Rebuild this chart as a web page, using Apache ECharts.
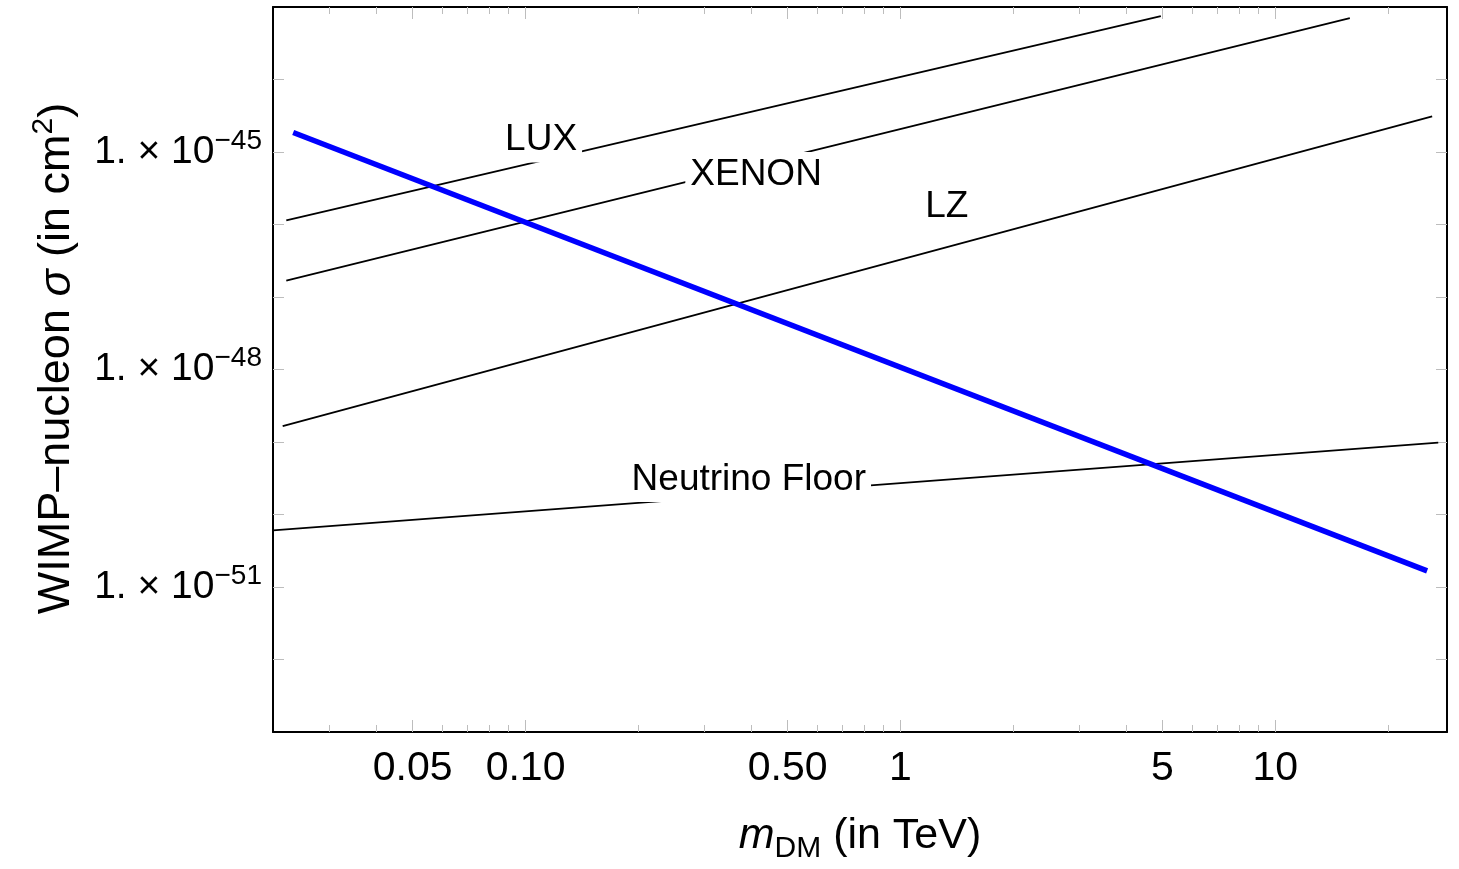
<!DOCTYPE html>
<html>
<head>
<meta charset="utf-8">
<title>WIMP-nucleon cross section</title>
<script src="https://cdn.jsdelivr.net/npm/echarts@6.0.0/dist/echarts.min.js"></script>
<style>
  html, body { margin: 0; padding: 0; background: #fff; }
  #chart { width: 1459px; height: 869px; }
</style>
</head>
<body>
<div id="chart"></div>
<script>
// dark matter mass in TeV, cross section in cm^2
const massLUX = [0.023, 4.95];
const sigmaLUX = [1.14e-46, 7.5e-44];
const massXENON = [0.023, 15.8];
const sigmaXENON = [1.68e-47, 7.0e-44];
const massLZ = [0.0225, 26.2];
const sigmaLZ = [1.66e-49, 3.1e-45];
const massNu = [0.0212, 27.2];
const sigmaNu = [6.05e-51, 9.8e-50];
const massModel = [0.024, 25.4];
const sigmaModel = [1.86e-45, 1.67e-51];

// curve labels
const labelNames = ['LUX', 'XENON', 'LZ', 'Neutrino Floor'];
const labelMass = [0.11, 0.412, 1.33, 0.394];
const labelSigma = [1.46e-45, 4.9e-46, 1.76e-46, 3.05e-50];

// ticks
const xMajorTicks = [0.05, 0.1, 0.5, 1, 5, 10];
const xTickLabels = ['0.05', '0.10', '0.50', '1', '5', '10'];
const xMinorTicks = [0.03, 0.04, 0.06, 0.07, 0.08, 0.09, 0.2, 0.3, 0.4, 0.6, 0.7, 0.8, 0.9, 2, 3, 4, 6, 7, 8, 9, 20];
const yTickExps = [-52, -51, -50, -49, -48, -47, -46, -45, -44];
const yLabelExps = [-45, -48, -51];
const xRange = [0.0212, 28.7];
const yRange = [-53, -43];

const FONT = '"Liberation Sans", Arial, sans-serif';
const TICK_COLOR = '#bdbdbd';

// log-log plot: the axes work on log10 of the values
function toLog(mass, sigma) {
  return mass.map((m, i) => [Math.log10(m), Math.log10(sigma[i])]);
}
const xMajorLog = xMajorTicks.map(Math.log10);
const xMinorLog = xMinorTicks.map(Math.log10);
const xMin = Math.log10(xRange[0]);
const xMax = Math.log10(xRange[1]);

function xLabel(v) {
  for (let i = 0; i < xMajorLog.length; i++) {
    if (Math.abs(xMajorLog[i] - v) < 1e-6) return xTickLabels[i];
  }
  return '';
}
function yLabel(v) {
  return '{m|1. \u00d7 10}{s|\u2212' + Math.abs(Math.round(v)) + '}';
}

function xAxisDef(position, ticks, len, withLine) {
  return {
    type: 'value', position: position, min: xMin, max: xMax,
    axisLine: { show: withLine, onZero: false, lineStyle: { color: '#000', width: 2 } },
    axisTick: { show: true, inside: true, length: len, customValues: ticks, lineStyle: { color: TICK_COLOR, width: 1 } },
    axisLabel: { show: false },
    splitLine: { show: false }
  };
}
function yAxisDef(position) {
  return {
    type: 'value', position: position, min: yRange[0], max: yRange[1],
    axisLine: { show: true, onZero: false, lineStyle: { color: '#000', width: 2 } },
    axisTick: { show: true, inside: true, length: 11, customValues: yTickExps, lineStyle: { color: TICK_COLOR, width: 1 } },
    axisLabel: { show: false },
    splitLine: { show: false }
  };
}

const xBottom = xAxisDef('bottom', xMajorLog, 12, true);
xBottom.axisLabel = {
  show: true, customValues: xMajorLog, formatter: xLabel,
  fontSize: 41, fontFamily: FONT, color: '#000', margin: 16
};
xBottom.name = '{i|m}{d|DM} (in TeV)';
xBottom.nameLocation = 'middle';
xBottom.nameGap = 76;
xBottom.nameTextStyle = {
  fontSize: 43, fontFamily: FONT, color: '#000',
  rich: {
    i: { fontSize: 43, fontFamily: FONT, fontStyle: 'italic', color: '#000' },
    d: { fontSize: 30, fontFamily: FONT, color: '#000', padding: [26, 0, 0, 0] }
  }
};

const yLeft = yAxisDef('left');
yLeft.axisLabel = {
  show: true, customValues: yLabelExps, formatter: yLabel, margin: 11,
  fontSize: 39, fontFamily: FONT, color: '#000',
  rich: {
    m: { fontSize: 39, fontFamily: FONT, color: '#000' },
    s: { fontSize: 28, fontFamily: FONT, color: '#000', padding: [0, 0, 22, 0] }
  }
};
yLeft.name = 'WIMP\u2013nucleon {i|\u03c3} (in cm{s|2})';
yLeft.nameLocation = 'middle';
yLeft.nameRotate = 90;
yLeft.nameGap = 188;
yLeft.nameTextStyle = {
  fontSize: 45, fontFamily: FONT, color: '#000', padding: [0, 0, 0, 22],
  rich: {
    i: { fontSize: 45, fontFamily: FONT, fontStyle: 'italic', color: '#000' },
    s: { fontSize: 30, fontFamily: FONT, color: '#000', padding: [0, 0, 26, 0] }
  }
};

function limitLine(name, data) {
  return {
    name: name, type: 'line', data: data, showSymbol: false, silent: true,
    lineStyle: { color: '#000', width: 1.8 }, z: 2
  };
}

const chart = echarts.init(document.getElementById('chart'), null, { renderer: 'canvas' });

const option = {
  animation: false,
  backgroundColor: '#fff',
  grid: { left: 273, right: 12, top: 7, bottom: 136, containLabel: false },
  xAxis: [
    xBottom,
    xAxisDef('bottom', xMinorLog, 7, false),
    xAxisDef('top', xMajorLog, 12, true),
    xAxisDef('top', xMinorLog, 7, false)
  ],
  yAxis: [yLeft, yAxisDef('right')],
  series: [
    limitLine('LUX', toLog(massLUX, sigmaLUX)),
    limitLine('XENON', toLog(massXENON, sigmaXENON)),
    limitLine('LZ', toLog(massLZ, sigmaLZ)),
    limitLine('Neutrino Floor', toLog(massNu, sigmaNu)),
    {
      name: 'model', type: 'line', data: toLog(massModel, sigmaModel),
      showSymbol: false, silent: true,
      lineStyle: { color: '#0000ff', width: 5.5 }, z: 3
    },
    {
      name: 'labels', type: 'scatter', symbolSize: 0, silent: true, z: 10,
      itemStyle: { opacity: 1 },
      data: labelNames.map((n, i) => ({
        name: n, value: [Math.log10(labelMass[i]), Math.log10(labelSigma[i])]
      })),
      label: {
        show: true, position: 'inside', formatter: '{b}',
        fontSize: 37, fontFamily: FONT, color: '#000', opacity: 1,
        textBorderWidth: 0, textBorderColor: 'transparent',
        backgroundColor: '#fff', padding: [2, 5, 6, 5]
      },
      emphasis: { disabled: true }
    }
  ]
};
chart.setOption(option);
</script>
</body>
</html>
